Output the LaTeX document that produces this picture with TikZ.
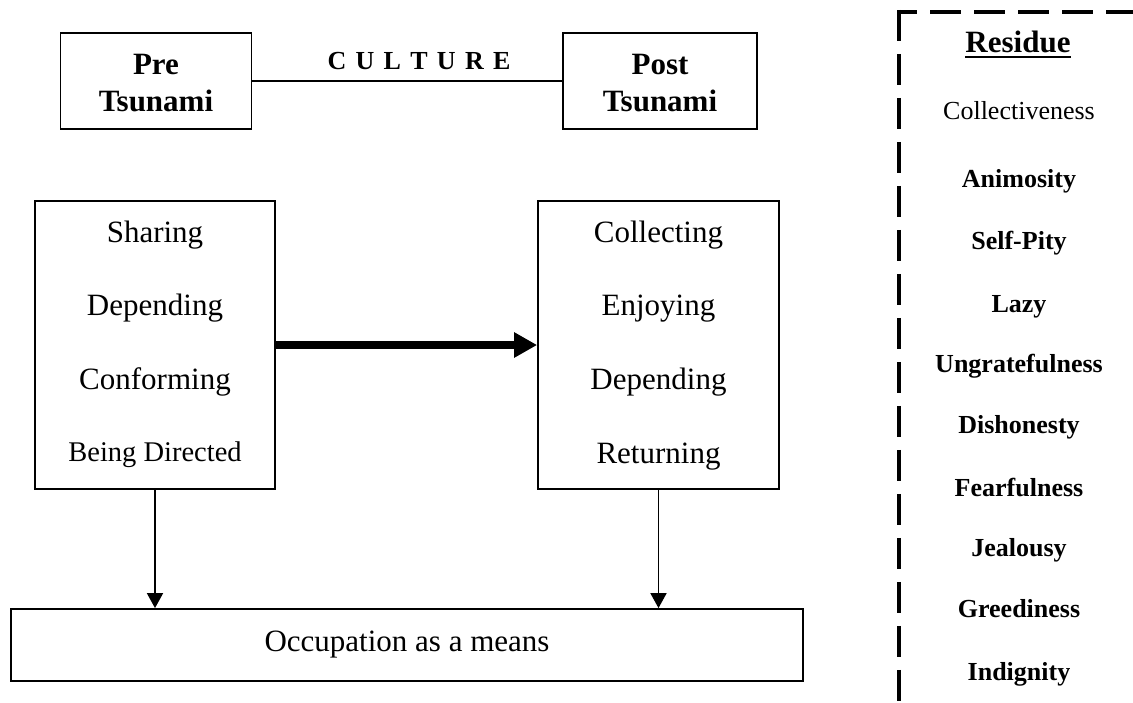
\documentclass[tikz,border=0pt]{standalone}
\usepackage{fontspec}
\setmainfont{Liberation Serif}
\usetikzlibrary{arrows.meta}
\begin{document}
\begin{tikzpicture}[x=1pt,y=-1pt,
  box/.style={draw, line width=1.8pt, inner sep=0pt},
  txt/.style={inner sep=0pt, anchor=base},
  big/.style={font=\fontsize{31}{37}\selectfont},
  bigb/.style={font=\fontsize{31}{37}\selectfont\bfseries},
  mid/.style={font=\fontsize{28.5}{34}\selectfont},
  small/.style={font=\fontsize{26}{30}\selectfont},
  smallb/.style={font=\fontsize{26}{30}\selectfont\bfseries},
  conn/.style={line width=1.8pt},
  down/.style={line width=1.8pt, -{Triangle[length=15pt,width=16pt]}},
  thickarrow/.style={line width=8pt, -{Triangle[length=23pt,width=24pt]}},
  dashline/.style={line width=4.5pt, dash pattern=on 31pt off 13pt}]
\useasboundingbox (0,0) rectangle (1133,702);

% header: the two periods joined by culture
\node[box, minimum width=191pt, minimum height=96pt] (pre) at (156,81) {};
\node[txt,bigb] (preA) at (156,74) {Pre};
\node[txt,bigb] (preB) at (156,111) {Tsunami};
\node[box, minimum width=194pt, minimum height=96pt] (post) at (660,81) {};
\node[txt,bigb] (postA) at (660,74) {Post};
\node[txt,bigb] (postB) at (660,111) {Tsunami};
\draw[conn] (pre.east) -- (post.west);
\node[txt,font=\fontsize{26}{30}\selectfont\bfseries] (culture) at (419,69)
  {C\hspace{9.3pt}U\hspace{9.3pt}L\hspace{9.3pt}T\hspace{9.3pt}U\hspace{9.3pt}R\hspace{9.3pt}E};

% occupations before and after
\node[box, minimum width=240pt, minimum height=288pt] (lbox) at (155,345) {};
\node[txt,big] (l1) at (155,242) {Sharing};
\node[txt,big] (l2) at (155,315) {Depending};
\node[txt,big] (l3) at (155,389) {Conforming};
\node[txt,mid] (l4) at (155,461) {Being Directed};

\node[box, minimum width=241pt, minimum height=288pt] (rbox) at (658.5,345) {};
\node[txt,big] (r1) at (658.5,242) {Collecting};
\node[txt,big] (r2) at (658.5,315) {Enjoying};
\node[txt,big] (r3) at (658.5,389) {Depending};
\node[txt,big] (r4) at (658.5,463) {Returning};

\draw[thickarrow] (lbox.east) -- (rbox.west);

% common outcome
\node[box, minimum width=792pt, minimum height=72pt] (occ) at (407,645) {};
\node[txt,big] (occT) at (407,651) {Occupation as a means};
\draw[down] (lbox.south) -- (lbox.south |- occ.north);
\draw[down] (rbox.south) -- (rbox.south |- occ.north);

% residue panel
\draw[dashline] (899,9.75) -- (899,712);
\draw[dashline, dash phase=13pt] (899,12) -- (1145,12);
\node[txt,font=\fontsize{31}{37}\selectfont\bfseries] (res) at (1018,52) {Residue};
\draw[line width=2.5pt] ([yshift=-5pt]res.base west) -- ([yshift=-5pt]res.base east);
\node[txt,small] (q1) at (1019,119) {Collectiveness};
\node[txt,smallb] (q2) at (1019,187) {Animosity};
\node[txt,smallb] (q3) at (1019,249) {Self-Pity};
\node[txt,smallb] (q4) at (1019,312) {Lazy};
\node[txt,smallb] (q5) at (1019,372) {Ungratefulness};
\node[txt,smallb] (q6) at (1019,433) {Dishonesty};
\node[txt,smallb] (q7) at (1019,496) {Fearfulness};
\node[txt,smallb] (q8) at (1019,556) {Jealousy};
\node[txt,smallb] (q9) at (1019,617) {Greediness};
\node[txt,smallb] (q10) at (1019,680) {Indignity};
\end{tikzpicture}
\end{document}
